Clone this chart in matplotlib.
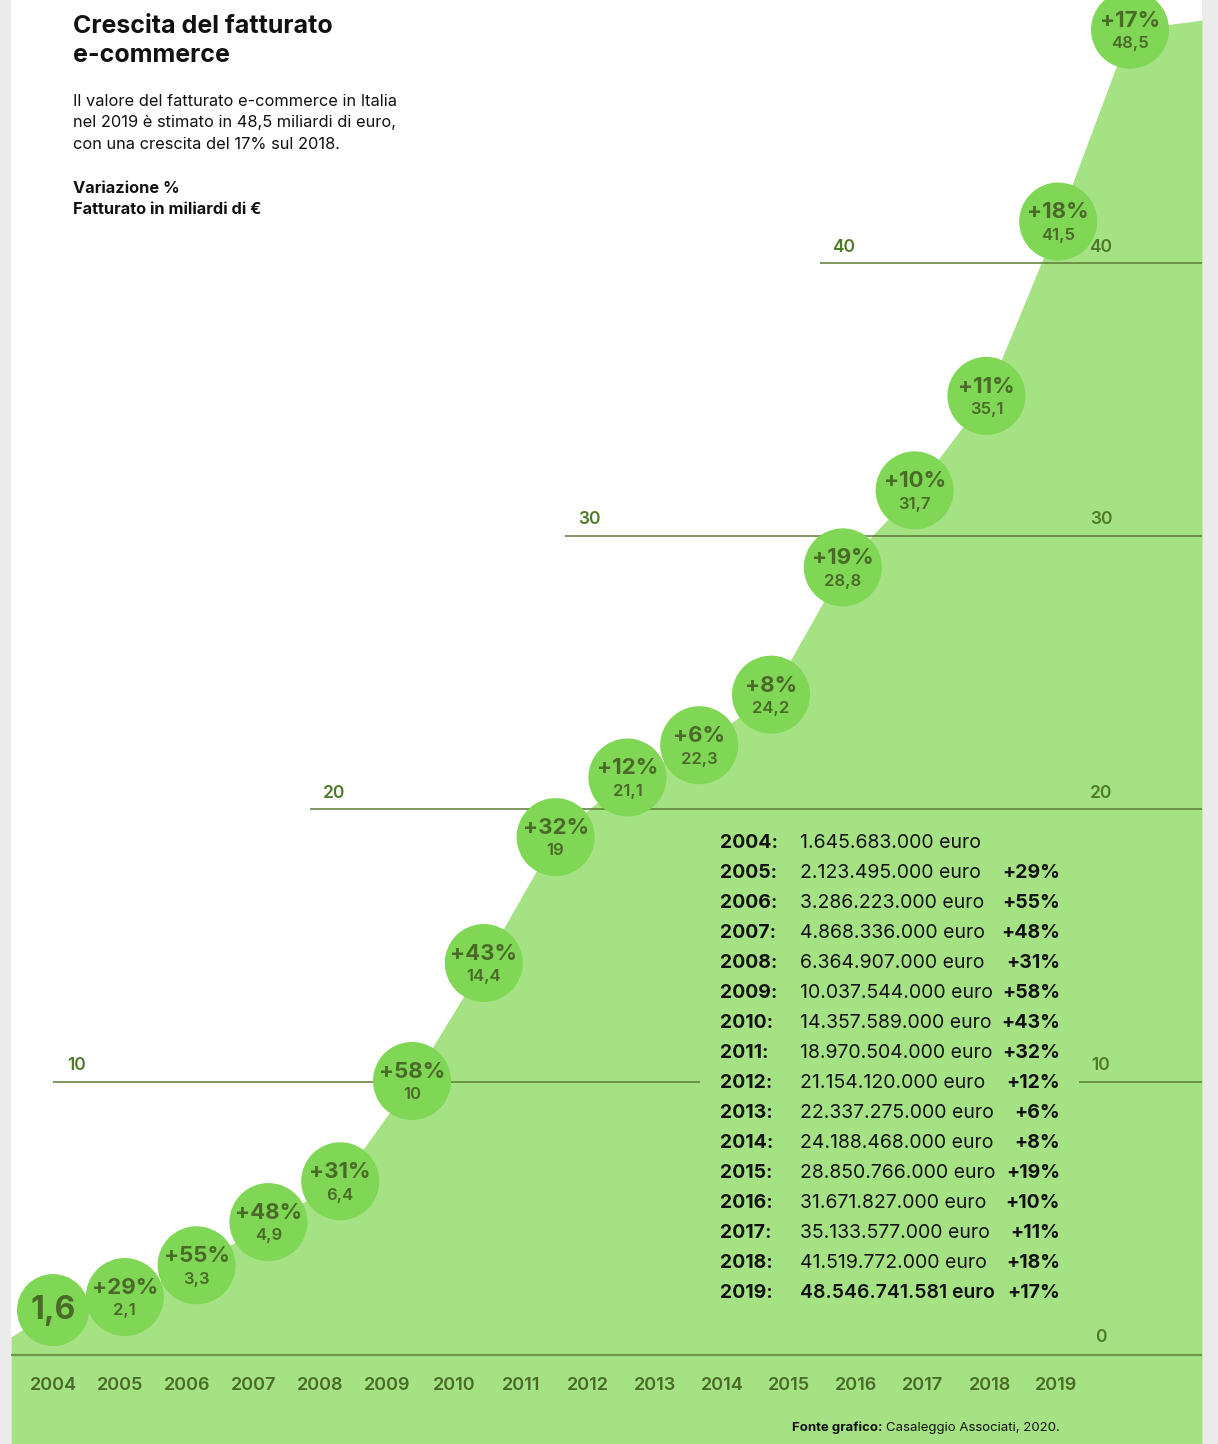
import matplotlib.pyplot as plt
import matplotlib.transforms as mtransforms

plt.rcParams['font.family'] = ['Inter', 'DejaVu Sans']

# data
years = list(range(2004, 2020))
fatturato = [1.645683, 2.123495, 3.286223, 4.868336, 6.364907, 10.037544,
             14.357589, 18.970504, 21.154120, 22.337275, 24.188468,
             28.850766, 31.671827, 35.133577, 41.519772, 48.546741581]
value_labels = ['1,6', '2,1', '3,3', '4,9', '6,4', '10', '14,4', '19', '21,1',
                '22,3', '24,2', '28,8', '31,7', '35,1', '41,5', '48,5']
variazioni = ['', '+29%', '+55%', '+48%', '+31%', '+58%', '+43%', '+32%',
              '+12%', '+6%', '+8%', '+19%', '+10%', '+11%', '+18%', '+17%']
euro_text = ['1.645.683.000', '2.123.495.000', '3.286.223.000', '4.868.336.000',
             '6.364.907.000', '10.037.544.000', '14.357.589.000', '18.970.504.000',
             '21.154.120.000', '22.337.275.000', '24.188.468.000', '28.850.766.000',
             '31.671.827.000', '35.133.577.000', '41.519.772.000', '48.546.741.581']
area_left, area_right = 0.66, 48.9   # where the area meets the panel edges
grid_values = [10, 20, 30, 40]

W, H = 1218, 1444
AREA = '#a4e283'
CIRCLE = '#80d655'
DARK = '#4a6b28'
GRID = '#5b7a33'


def px(x, y):
    return x / W, 1 - y / H


fig = plt.figure(figsize=(W / 100, H / 100), dpi=100, facecolor='#ebebeb')
left, right = 11, 1202
ax = fig.add_axes([left / W, 0, (right - left) / W, 1])
ax.set_facecolor('white')
for s in ax.spines.values():
    s.set_visible(False)
ax.set_xticks([])
ax.set_yticks([])

# scale: circle i at 53 + 71.8*i px, value 0 at 1355 px, 27.3 px per unit
step, y0, ppu = 71.8, 1355, 27.3
x0 = (left - 53) / step
x1 = (right - 53) / step
ax.set_xlim(x0, x1)
ymin, ymax = -(H - y0) / ppu, y0 / ppu
ax.set_ylim(ymin, ymax)

idx = list(range(len(years)))
ax.fill_between([x0] + idx + [x1], [area_left] + fatturato + [area_right],
                ymin, color=AREA, lw=0, zorder=1)
ax.axhline(0, color='#6e9a4a', lw=1.6, zorder=2)

# gridlines, broken where the table sits
grid_starts = {10: 0, 20: 3.58, 30: 7.13, 40: 10.68}
for g in grid_values:
    if g == 10:
        ax.hlines(g, grid_starts[g], (700 - 53) / step, color=GRID, lw=1.1, zorder=2)
        ax.hlines(g, (1079 - 53) / step, x1, color=GRID, lw=1.1, zorder=2)
    else:
        ax.hlines(g, grid_starts[g], x1, color=GRID, lw=1.1, zorder=2)
    ax.text(grid_starts[g] + 24 / step, g + 16 / ppu, str(g), ha='center',
            va='center', fontsize=12.5, fontweight='semibold', color='#4e7a2a', zorder=2)
    ax.text((1101 - 53) / step, g + 16 / ppu, str(g), ha='center', va='center',
            fontsize=12.5, fontweight='semibold', color='#4e7a2a', zorder=2)
ax.text((1101 - 53) / step, 17 / ppu, '0', ha='center', va='center',
        fontsize=12.5, fontweight='semibold', color='#4e7a2a', zorder=2)

# circles
sizes = [2687] + [3154] * (len(years) - 1)
ax.scatter(idx, fatturato, s=sizes, color=CIRCLE, lw=0, zorder=3)
for i, v in enumerate(fatturato):
    if variazioni[i] == '':
        ax.annotate(value_labels[i], (i, v), ha='center', va='center',
                    fontsize=23, fontweight='bold', color=DARK, zorder=4)
        continue
    ax.annotate(variazioni[i], (i, v), xytext=(0, 6.5), textcoords='offset points',
                ha='center', va='center', fontsize=16, fontweight='bold',
                color=DARK, zorder=4)
    ax.annotate(value_labels[i], (i, v), xytext=(0, -10), textcoords='offset points',
                ha='center', va='center', fontsize=12, fontweight='semibold',
                color=DARK, zorder=4)

# year row on its own spacing
ax2 = fig.add_axes(ax.get_position())
ax2.set_axis_off()
ystep = 66.9
ax2.set_xlim((left - 53) / ystep, (right - 53) / ystep)
ax2.set_ylim(ymin, ymax)
trans = mtransforms.blended_transform_factory(ax2.transData, ax.transData)
for i, yr in enumerate(years):
    ax2.text(i, -30 / ppu, str(yr), transform=trans, ha='center', va='center',
             fontsize=13, fontweight='semibold', color=DARK)

# table
for k, yr in enumerate(years):
    ty = 843 + 30 * k
    last = k == len(years) - 1
    fig.text(*px(720, ty), f'{yr}:', ha='left', va='center', fontsize=14,
             fontweight='bold', color='#111111')
    fig.text(*px(800, ty), f'{euro_text[k]} euro', ha='left', va='center',
             fontsize=14, fontweight='semibold' if last else 'normal',
             color='#111111')
    if variazioni[k]:
        fig.text(*px(1060, ty), variazioni[k], ha='right', va='center',
                 fontsize=14, fontweight='bold', color='#111111')

# header texts
fig.text(*px(73, 15), 'Crescita del fatturato\ne-commerce', ha='left', va='top',
         fontsize=18, fontweight='bold', color='#111111', linespacing=1.35)
fig.text(*px(73, 94), 'Il valore del fatturato e-commerce in Italia\n'
         'nel 2019 è stimato in 48,5 miliardi di euro,\n'
         'con una crescita del 17% sul 2018.', ha='left', va='top',
         fontsize=11.8, color='#111111', linespacing=1.52)
fig.text(*px(73, 181), 'Variazione %\nFatturato in miliardi di €', ha='left',
         va='top', fontsize=11.8, fontweight='bold', color='#111111', linespacing=1.52)

src = fig.text(*px(792, 1428), 'Fonte grafico: ', ha='left', va='center',
               fontsize=9.5, fontweight='bold', color='#111111')
ax.annotate('Casaleggio Associati, 2020.', xy=(1, 0.5), xycoords=src,
            ha='left', va='center', fontsize=9.5, color='#111111',
            annotation_clip=False)

plt.savefig('out.png', dpi=100, facecolor=fig.get_facecolor())
